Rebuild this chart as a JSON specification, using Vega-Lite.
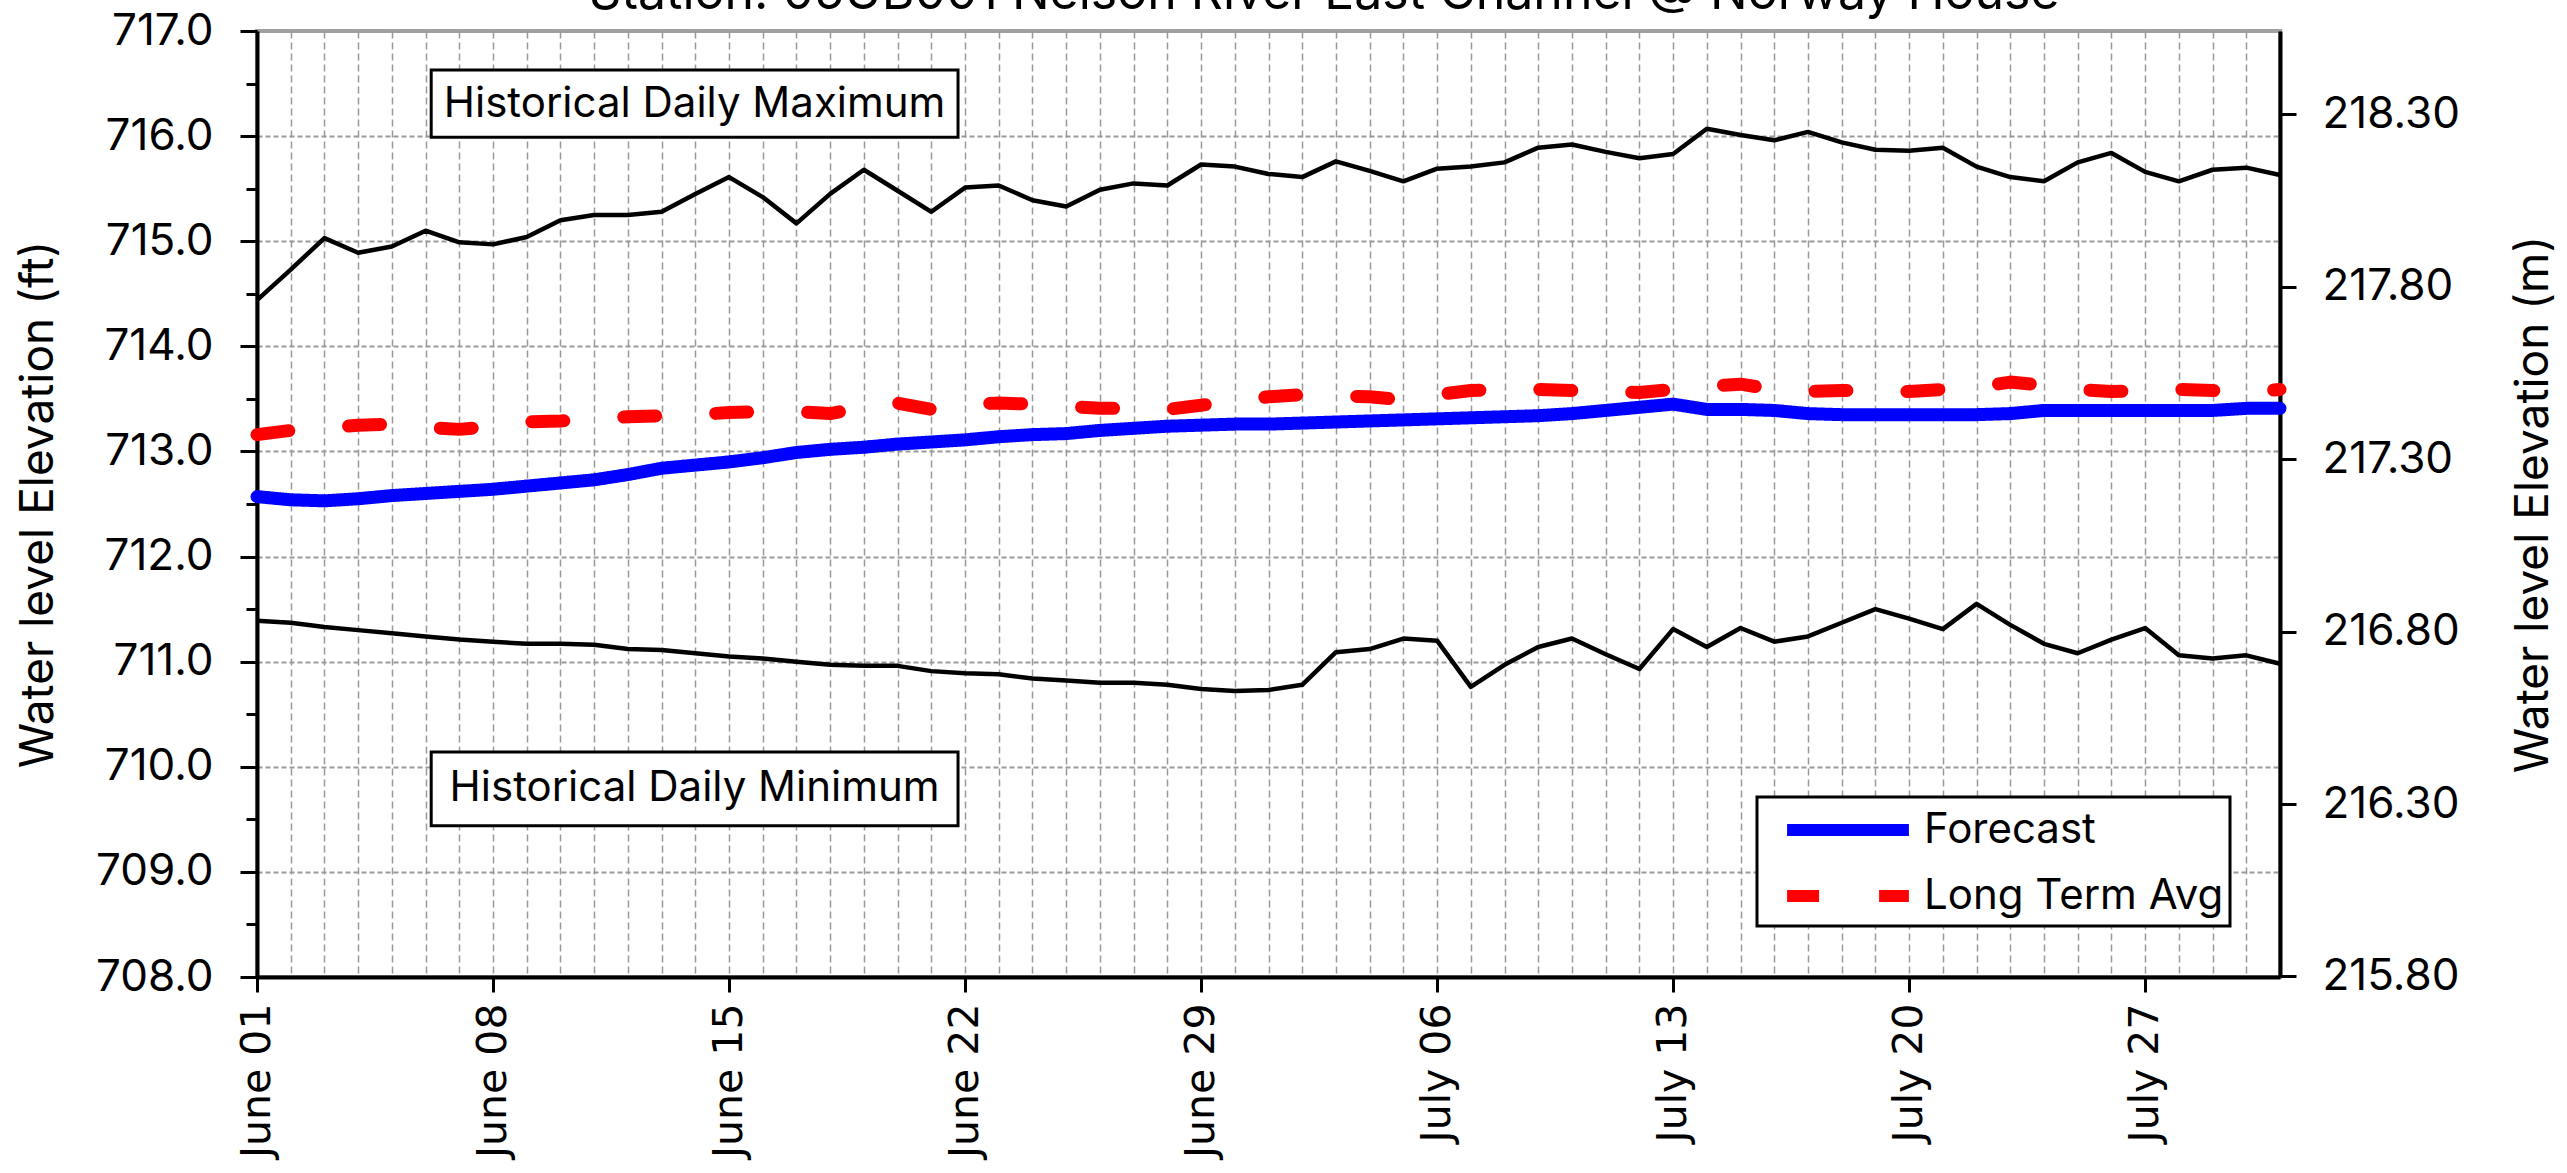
{
  "$schema": "https://vega.github.io/schema/vega-lite/v6.json",
  "width": 2023,
  "height": 946,
  "autosize": {"type": "none"},
  "padding": {"left": 257, "top": 31, "right": 287, "bottom": 196},
  "background": "white",
  "title": {
    "text": "Station: 05UB001 Nelson River East Channel @ Norway House",
    "font": "Inter",
    "fontSize": 50,
    "fontWeight": "normal",
    "color": "black",
    "anchor": "middle",
    "frame": "group",
    "offset": -50,
    "baseline": "alphabetic",
    "dx": 56
  },
  "config": {
    "view": {"stroke": "#a0a0a0", "strokeWidth": 4},
    "font": "Inter",
    "legend": {
      "symbolType": "M-2.9,0H2.9",
      "symbolSize": 1764,
      "symbolStrokeWidth": 12,
      "labelFont": "Inter",
      "labelFontSize": 42,
      "labelColor": "black",
      "labelOffset": 49,
      "labelLimit": 1000,
      "rowPadding": 15,
      "padding": 6,
      "symbolOffset": 58,
      "strokeColor": "black",
      "fillColor": "white",
      "strokeWidth": 3
    }
  },
  "datasets": {
    "series": [
      {"date": "2023-06-01T00:00", "max": 714.44, "min": 711.39, "fc": 712.57, "lta": 713.16},
      {"date": "2023-06-02T00:00", "max": 714.73, "min": 711.37, "fc": 712.54, "lta": 713.20},
      {"date": "2023-06-03T00:00", "max": 715.03, "min": 711.33, "fc": 712.53, "lta": 713.22},
      {"date": "2023-06-04T00:00", "max": 714.89, "min": 711.30, "fc": 712.55, "lta": 713.25},
      {"date": "2023-06-05T00:00", "max": 714.95, "min": 711.27, "fc": 712.58, "lta": 713.26},
      {"date": "2023-06-06T00:00", "max": 715.10, "min": 711.24, "fc": 712.60, "lta": 713.23},
      {"date": "2023-06-07T00:00", "max": 714.99, "min": 711.21, "fc": 712.62, "lta": 713.21},
      {"date": "2023-06-08T00:00", "max": 714.97, "min": 711.19, "fc": 712.64, "lta": 713.24},
      {"date": "2023-06-09T00:00", "max": 715.04, "min": 711.17, "fc": 712.67, "lta": 713.28},
      {"date": "2023-06-10T00:00", "max": 715.20, "min": 711.17, "fc": 712.70, "lta": 713.29},
      {"date": "2023-06-11T00:00", "max": 715.25, "min": 711.16, "fc": 712.73, "lta": 713.31},
      {"date": "2023-06-12T00:00", "max": 715.25, "min": 711.12, "fc": 712.78, "lta": 713.33},
      {"date": "2023-06-13T00:00", "max": 715.28, "min": 711.11, "fc": 712.84, "lta": 713.34},
      {"date": "2023-06-14T00:00", "max": 715.45, "min": 711.08, "fc": 712.87, "lta": 713.35},
      {"date": "2023-06-15T00:00", "max": 715.61, "min": 711.05, "fc": 712.90, "lta": 713.37},
      {"date": "2023-06-16T00:00", "max": 715.42, "min": 711.03, "fc": 712.94, "lta": 713.38},
      {"date": "2023-06-17T00:00", "max": 715.17, "min": 711.00, "fc": 712.99, "lta": 713.38},
      {"date": "2023-06-18T00:00", "max": 715.45, "min": 710.97, "fc": 713.02, "lta": 713.36},
      {"date": "2023-06-19T00:00", "max": 715.68, "min": 710.96, "fc": 713.04, "lta": 713.42},
      {"date": "2023-06-20T00:00", "max": 715.48, "min": 710.96, "fc": 713.07, "lta": 713.46},
      {"date": "2023-06-21T00:00", "max": 715.28, "min": 710.91, "fc": 713.09, "lta": 713.40},
      {"date": "2023-06-22T00:00", "max": 715.51, "min": 710.89, "fc": 713.11, "lta": 713.45},
      {"date": "2023-06-23T00:00", "max": 715.53, "min": 710.88, "fc": 713.14, "lta": 713.46},
      {"date": "2023-06-24T00:00", "max": 715.39, "min": 710.84, "fc": 713.16, "lta": 713.45},
      {"date": "2023-06-25T00:00", "max": 715.33, "min": 710.82, "fc": 713.17, "lta": 713.43},
      {"date": "2023-06-26T00:00", "max": 715.49, "min": 710.80, "fc": 713.20, "lta": 713.41},
      {"date": "2023-06-27T00:00", "max": 715.55, "min": 710.80, "fc": 713.22, "lta": 713.41},
      {"date": "2023-06-28T00:00", "max": 715.53, "min": 710.78, "fc": 713.24, "lta": 713.40},
      {"date": "2023-06-29T00:00", "max": 715.73, "min": 710.74, "fc": 713.25, "lta": 713.44},
      {"date": "2023-06-30T00:00", "max": 715.71, "min": 710.72, "fc": 713.26, "lta": 713.48},
      {"date": "2023-07-01T00:00", "max": 715.64, "min": 710.73, "fc": 713.26, "lta": 713.52},
      {"date": "2023-07-02T00:00", "max": 715.61, "min": 710.78, "fc": 713.27, "lta": 713.54},
      {"date": "2023-07-03T00:00", "max": 715.76, "min": 711.09, "fc": 713.28, "lta": 713.53},
      {"date": "2023-07-04T00:00", "max": 715.67, "min": 711.12, "fc": 713.29, "lta": 713.52},
      {"date": "2023-07-05T00:00", "max": 715.57, "min": 711.22, "fc": 713.30, "lta": 713.49},
      {"date": "2023-07-06T00:00", "max": 715.69, "min": 711.20, "fc": 713.31, "lta": 713.54},
      {"date": "2023-07-07T00:00", "max": 715.71, "min": 710.76, "fc": 713.32, "lta": 713.58},
      {"date": "2023-07-08T00:00", "max": 715.75, "min": 710.97, "fc": 713.33, "lta": 713.59},
      {"date": "2023-07-09T00:00", "max": 715.89, "min": 711.14, "fc": 713.34, "lta": 713.59},
      {"date": "2023-07-10T00:00", "max": 715.92, "min": 711.22, "fc": 713.36, "lta": 713.58},
      {"date": "2023-07-11T00:00", "max": 715.85, "min": 711.07, "fc": 713.39, "lta": 713.57},
      {"date": "2023-07-12T00:00", "max": 715.79, "min": 710.93, "fc": 713.42, "lta": 713.56},
      {"date": "2023-07-13T00:00", "max": 715.83, "min": 711.31, "fc": 713.45, "lta": 713.59},
      {"date": "2023-07-14T00:00", "max": 716.07, "min": 711.14, "fc": 713.40, "lta": 713.62},
      {"date": "2023-07-15T00:00", "max": 716.01, "min": 711.32, "fc": 713.40, "lta": 713.64},
      {"date": "2023-07-16T00:00", "max": 715.96, "min": 711.19, "fc": 713.39, "lta": 713.59},
      {"date": "2023-07-17T00:00", "max": 716.04, "min": 711.24, "fc": 713.36, "lta": 713.57},
      {"date": "2023-07-18T00:00", "max": 715.94, "min": 711.37, "fc": 713.35, "lta": 713.58},
      {"date": "2023-07-19T00:00", "max": 715.87, "min": 711.50, "fc": 713.35, "lta": 713.58},
      {"date": "2023-07-20T00:00", "max": 715.86, "min": 711.41, "fc": 713.35, "lta": 713.57},
      {"date": "2023-07-21T00:00", "max": 715.89, "min": 711.31, "fc": 713.35, "lta": 713.59},
      {"date": "2023-07-22T00:00", "max": 715.71, "min": 711.55, "fc": 713.35, "lta": 713.61},
      {"date": "2023-07-23T00:00", "max": 715.61, "min": 711.35, "fc": 713.36, "lta": 713.66},
      {"date": "2023-07-24T00:00", "max": 715.57, "min": 711.17, "fc": 713.39, "lta": 713.63},
      {"date": "2023-07-25T00:00", "max": 715.75, "min": 711.08, "fc": 713.39, "lta": 713.59},
      {"date": "2023-07-26T00:00", "max": 715.84, "min": 711.21, "fc": 713.39, "lta": 713.57},
      {"date": "2023-07-27T00:00", "max": 715.66, "min": 711.32, "fc": 713.39, "lta": 713.58},
      {"date": "2023-07-28T00:00", "max": 715.57, "min": 711.06, "fc": 713.39, "lta": 713.59},
      {"date": "2023-07-29T00:00", "max": 715.68, "min": 711.03, "fc": 713.39, "lta": 713.58},
      {"date": "2023-07-30T00:00", "max": 715.70, "min": 711.06, "fc": 713.41, "lta": 713.56},
      {"date": "2023-07-31T00:00", "max": 715.63, "min": 710.98, "fc": 713.41, "lta": 713.59}
    ],
    "boxes": [
      {"date": "2023-06-06T04:00", "date2": "2023-06-21T19:00", "v": 716.63, "v2": 715.99},
      {"date": "2023-06-06T04:00", "date2": "2023-06-21T19:00", "v": 710.14, "v2": 709.44}
    ],
    "labels": [
      {"date": "2023-06-13T23:30", "v": 716.31, "label": "Historical Daily Maximum"},
      {"date": "2023-06-13T23:30", "v": 709.80, "label": "Historical Daily Minimum"}
    ],
    "meters": [
      {"m": 215.8},
      {"m": 218.3}
    ]
  },
  "layer": [
    {
      "encoding": {
        "x": {
          "field": "date",
          "type": "temporal",
          "scale": {"domain": [{"year": 2023, "month": 6, "date": 1}, {"year": 2023, "month": 7, "date": 31}], "nice": false},
          "axis": {
            "title": null,
            "tickCount": {"interval": "day", "step": 1},
            "format": "%B %d",
            "labelExpr": "round((datum.value - datetime(2023,5,1)) / 86400000) % 7 === 0 ? datum.label : ''",
            "labelAngle": -90,
            "labelAlign": "right",
            "labelBaseline": "middle",
            "labelFont": "DejaVu Sans",
            "labelFontSize": 41,
            "labelColor": "black",
            "labelPadding": 11,
            "labelOverlap": false,
            "labelFlush": false,
            "tickSize": {"condition": {"test": "round((datum.value - datetime(2023,5,1)) / 86400000) % 7 === 0", "value": 15}, "value": 0},
            "tickColor": "black",
            "tickWidth": 3,
            "domainColor": "black",
            "domainWidth": 4,
            "grid": true,
            "gridColor": "#999999",
            "gridDash": [7, 4],
            "gridWidth": 1.5
          }
        },
        "y": {
          "field": "v",
          "type": "quantitative",
          "scale": {"domain": [708, 717], "nice": false, "zero": false},
          "axis": {
            "title": "Water level Elevation (ft)",
            "orient": "left",
            "values": [708, 708.5, 709, 709.5, 710, 710.5, 711, 711.5, 712, 712.5, 713, 713.5, 714, 714.5, 715, 715.5, 716, 716.5, 717],
            "labelExpr": "datum.value % 1 === 0 ? format(datum.value, '.1f') : ''",
            "labelFont": "Inter",
            "labelFontSize": 44,
            "labelColor": "black",
            "labelPadding": 27,
            "labelOverlap": false,
            "tickSize": {"condition": {"test": "datum.value % 1 === 0", "value": 17}, "value": 11},
            "tickColor": "black",
            "tickWidth": 3,
            "domainColor": "black",
            "domainWidth": 4,
            "grid": true,
            "gridColor": "#999999",
            "gridDash": [5, 3],
            "gridWidth": 2,
            "gridOpacity": {"condition": {"test": "datum.value % 1 === 0 && datum.value < 717 && datum.value > 708", "value": 1}, "value": 0},
            "titleFont": "Inter",
            "titleFontSize": 46,
            "titleFontWeight": "normal",
            "titleColor": "black",
            "titlePadding": 33
          }
        }
      },
      "layer": [
        {
          "data": {"name": "boxes"},
          "mark": {"type": "rect", "fill": "white", "stroke": "black", "strokeWidth": 3},
          "encoding": {
            "x2": {"field": "date2"},
            "y2": {"field": "v2"}
          }
        },
        {
          "data": {"name": "labels"},
          "mark": {"type": "text", "font": "Inter", "fontSize": 42, "color": "black", "align": "center", "baseline": "middle"},
          "encoding": {
            "text": {"field": "label"}
          }
        },
        {
          "data": {"name": "series"},
          "transform": [{"fold": ["max", "min"], "as": ["k", "v"]}],
          "mark": {"type": "line", "color": "black", "strokeWidth": 4.5, "strokeJoin": "round"},
          "encoding": {
            "detail": {"field": "k", "type": "nominal"}
          }
        },
        {
          "data": {"name": "series"},
          "transform": [{"fold": ["fc", "lta"], "as": ["k", "v"]}],
          "mark": {"type": "line", "strokeWidth": 13, "strokeCap": "round", "strokeJoin": "round"},
          "encoding": {
            "color": {
              "field": "k",
              "type": "nominal",
              "scale": {"domain": ["fc", "lta"], "range": ["#0000ff", "#ff0000"]},
              "legend": {"title": null, "orient": "none", "legendX": 1500, "legendY": 766, "labelExpr": "(datum.value == 'fc' ? 'Forecast' : 'Long Term Avg') + '   '"}
            },
            "strokeDash": {
              "field": "k",
              "type": "nominal",
              "scale": {"domain": ["fc", "lta"], "range": [[1, 0], [32, 60]]},
              "legend": {"title": null, "orient": "none", "legendX": 1500, "legendY": 766, "labelExpr": "(datum.value == 'fc' ? 'Forecast' : 'Long Term Avg') + '   '"}
            }
          }
        }
      ]
    },
    {
      "data": {"name": "meters"},
      "mark": {"type": "point", "opacity": 0},
      "encoding": {
        "y": {
          "field": "m",
          "type": "quantitative",
          "scale": {"domain": [215.7984, 218.5416], "nice": false, "zero": false},
          "axis": {
            "title": "Water level Elevation (m)",
            "orient": "right",
            "values": [215.8, 216.3, 216.8, 217.3, 217.8, 218.3],
            "format": ".2f",
            "grid": false,
            "labelFont": "Inter",
            "labelFontSize": 44,
            "labelColor": "black",
            "labelPadding": 26,
            "labelOverlap": false,
            "tickSize": 16,
            "tickColor": "black",
            "tickWidth": 3,
            "domainColor": "black",
            "domainWidth": 4,
            "titleFont": "Inter",
            "titleFontSize": 46,
            "titleFontWeight": "normal",
            "titleColor": "black",
            "titleAngle": -90,
            "titleBaseline": "top",
            "titlePadding": 52
          }
        }
      }
    }
  ],
  "resolve": {"scale": {"y": "independent"}}
}
